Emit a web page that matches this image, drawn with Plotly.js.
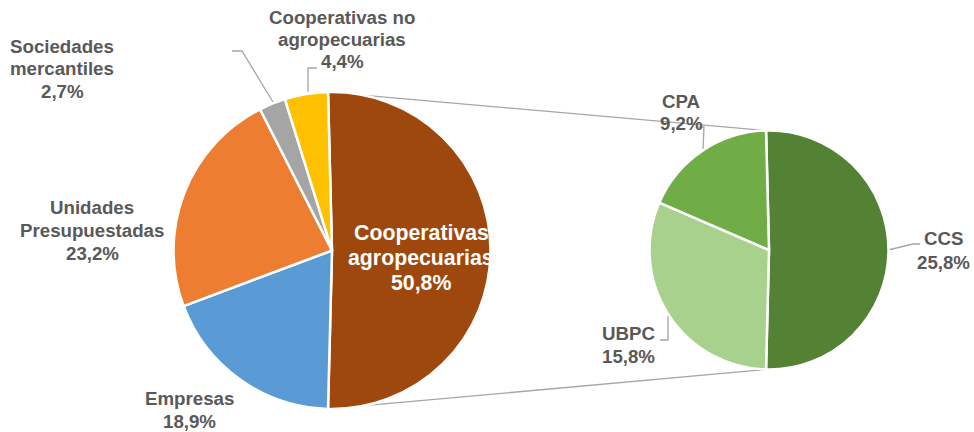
<!DOCTYPE html>
<html>
<head>
<meta charset="utf-8">
<script src="https://cdn.plot.ly/plotly-3.0.1.min.js"></script>
<style>html,body{margin:0;padding:0;background:#fff;}#chart{width:974px;height:432px;}</style>
</head>
<body>
<div id="chart"></div>
<script>
// ---- Data ----
var mainLabels = ["Cooperativas agropecuarias", "Empresas", "Unidades Presupuestadas", "Sociedades mercantiles", "Cooperativas no agropecuarias"];
var mainValues = [50.8, 18.9, 23.2, 2.7, 4.4];
var mainLabelLines = [["Cooperativas", "agropecuarias"], ["Empresas"], ["Unidades", "Presupuestadas"], ["Sociedades", "mercantiles"], ["Cooperativas no", "agropecuarias"]];

var subLabels = ["CCS", "UBPC", "CPA"];
var subValues = [25.8, 15.8, 9.2];
var subLabelLines = [["CCS"], ["UBPC"], ["CPA"]];

// ---- Styles / layout ----
var W = 974, H = 432;
var mainColors = ["#9E480E", "#5B9BD5", "#ED7D31", "#A5A5A5", "#FFC000"];
var subColors = ["#548235", "#A9D18E", "#70AD47"];
var textColor = "#595959";
var fontFam = "Liberation Sans, Arial, sans-serif";

var mainGeo = {cx: 332, cy: 250.5, r: 158.5};
var subGeo = {cx: 769, cy: 250, r: 119.5};

// label placement (pixel centers of first line), line spacing
var mainLabelPos = [
  {x: 421, y: 233, dy: 25, size: 21.3, color: "#FFFFFF"},
  {x: 189, y: 398, dy: 23, size: 18.7, color: textColor},
  {x: 92, y: 208, dy: 22.5, size: 18.7, color: textColor},
  {x: 62, y: 46, dy: 22.5, size: 18.7, color: textColor},
  {x: 342, y: 17, dy: 22.5, size: 18.7, color: textColor}
];
var subLabelPos = [
  {x: 943, y: 239, dy: 23, size: 18.7, color: textColor},
  {x: 628, y: 333, dy: 23, size: 18.7, color: textColor},
  {x: 681, y: 101, dy: 22.5, size: 18.7, color: textColor}
];
// leader lines (pixel polylines)
var leaders = [
  [[232, 51], [242, 51], [273, 102]],
  [[317, 68], [308, 68], [308, 92]],
  [[697, 127], [704, 127], [703, 150]],
  [[660, 340], [668, 340], [668, 315]],
  [[888, 250], [913, 244], [920, 244]]
];

function px(x) { return x / W; }
function py(y) { return 1 - y / H; }
function domainOf(g) {
  return {x: [px(g.cx - g.r), px(g.cx + g.r)], y: [py(g.cy + g.r), py(g.cy - g.r)]};
}
function sum(a) { return a.reduce(function (s, v) { return s + v; }, 0); }

var mainTotal = sum(mainValues);
var subTotal = sum(subValues);
// rotate so the split slice is centered on the right (3 o'clock)
var mainRot = 90 - 180 * mainValues[0] / mainTotal;
var subRot = 90 - 180 * subValues[0] / subTotal;

function fmt(v, total) {
  return (v / total * 100).toFixed(1).replace(".", ",") + "%";
}

var traces = [
  {
    type: "pie", values: mainValues, labels: mainLabels, sort: false, direction: "clockwise",
    rotation: mainRot, textinfo: "none", hoverinfo: "none",
    marker: {colors: mainColors, line: {color: "#FFFFFF", width: 2.5}},
    domain: domainOf(mainGeo), showlegend: false
  },
  {
    type: "pie", values: subValues, labels: subLabels, sort: false, direction: "clockwise",
    rotation: subRot, textinfo: "none", hoverinfo: "none",
    marker: {colors: subColors, line: {color: "#FFFFFF", width: 2.5}},
    domain: domainOf(subGeo), showlegend: false
  }
];

var annotations = [];
function addLabels(lines, values, totalForPct, pos) {
  for (var i = 0; i < lines.length; i++) {
    var p = pos[i];
    var all = lines[i].concat([fmt(values[i], totalForPct)]);
    for (var k = 0; k < all.length; k++) {
      annotations.push({
        xref: "paper", yref: "paper", x: px(p.x), y: py(p.y + k * p.dy),
        xanchor: "center", yanchor: "middle", showarrow: false,
        text: "<b>" + all[k] + "</b>",
        font: {family: fontFam, size: p.size, color: p.color}
      });
    }
  }
}
addLabels(mainLabelLines, mainValues, mainTotal, mainLabelPos);
addLabels(subLabelLines, subValues, mainTotal, subLabelPos);

var shapes = [];
// series connector lines from split slice edges to sub pie edges
function pt(g, angDeg) {
  var a = angDeg * Math.PI / 180;
  return [g.cx + g.r * Math.sin(a), g.cy - g.r * Math.cos(a)];
}
var mStart = pt(mainGeo, mainRot);
var mEnd = pt(mainGeo, mainRot + 360 * mainValues[0] / mainTotal);
var sTop = pt(subGeo, subRot);
var sBot = pt(subGeo, subRot + 360 * subValues[0] / subTotal);
[[mStart, sTop], [mEnd, sBot]].forEach(function (seg) {
  shapes.push({type: "line", xref: "paper", yref: "paper", layer: "below",
    x0: px(seg[0][0]), y0: py(seg[0][1]), x1: px(seg[1][0]), y1: py(seg[1][1]),
    line: {color: "#A6A6A6", width: 1.3}});
});
leaders.forEach(function (poly) {
  var d = "M" + poly.map(function (p) { return px(p[0]) + "," + py(p[1]); }).join(" L");
  shapes.push({type: "path", xref: "paper", yref: "paper", layer: "below", path: d,
    line: {color: "#A6A6A6", width: 1.3}});
});

var layout = {
  width: W, height: H, margin: {l: 0, r: 0, t: 0, b: 0},
  paper_bgcolor: "#FFFFFF", plot_bgcolor: "#FFFFFF",
  showlegend: false, annotations: annotations, shapes: shapes
};

Plotly.newPlot("chart", traces, layout, {displayModeBar: false, staticPlot: true});
</script>
</body>
</html>
